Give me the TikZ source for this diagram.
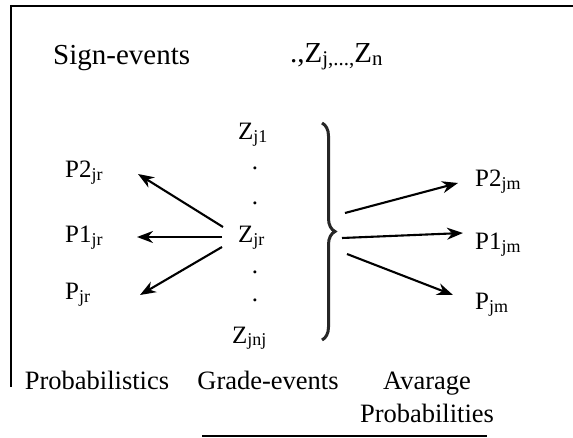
\documentclass[tikz,border=0pt]{standalone}
\usepackage{fontspec}
\setmainfont{Liberation Serif}
\usetikzlibrary{decorations.pathreplacing,arrows.meta}
\newcommand\sbs[1]{\raisebox{-0.2ex}{\scalebox{0.72}{#1}}}
\begin{document}
\begin{tikzpicture}[x=1pt,y=-1pt,
  lbl/.style={inner sep=0pt, anchor=base west, font=\fontsize{25}{28}\selectfont},
  big/.style={inner sep=0pt, anchor=base west, font=\fontsize{29}{32}\selectfont},
  captext/.style={inner sep=0pt, anchor=base, font=\fontsize{26.5}{33}\selectfont, align=center},
  dotlbl/.style={inner sep=0pt, anchor=base, font=\fontsize{25}{28}\selectfont},
  arr/.style={-{Stealth[length=16pt,width=12pt]}, line width=2.1pt},
  frame/.style={line width=2.4pt}]
\useasboundingbox (0,0) rectangle (573,438);
% frame lines
\draw[frame] (10,6) -- (573,6);
\draw[frame] (11,5) -- (11,387);
\draw[frame] (202,436) -- (487,436);
% header
\node[big] (sign) at (53,65) {Sign-events};
\node[big] (zseq) at (290,63) {.,Z\sbs{j,...,}Z\sbs{n}};
% grade events column
\node[lbl] (z1) at (238,140) {Z\sbs{j1}};
\node[dotlbl] (d1) at (255,170) {.};
\node[dotlbl] (d2) at (255,205) {.};
\node[lbl] (zr) at (238,243) {Z\sbs{jr}};
\node[dotlbl] (d3) at (255,274) {.};
\node[dotlbl] (d4) at (255,302) {.};
\node[lbl] (zn) at (232,343) {Z\sbs{jnj}};
% left probabilities
\node[lbl] (p2l) at (65,178) {P2\sbs{jr}};
\node[lbl] (p1l) at (65,243) {P1\sbs{jr}};
\node[lbl] (p0l) at (65,300) {P\sbs{jr}};
% right probabilities
\node[lbl] (p2r) at (475,187) {P2\sbs{jm}};
\node[lbl] (p1r) at (475,250) {P1\sbs{jm}};
\node[lbl] (p0r) at (475,310) {P\sbs{jm}};
% brace
\draw[line width=3pt, black!85, decorate, decoration={brace, amplitude=13pt}] (322,123) -- (322,340);
\coordinate (tip) at (335,236);
% left arrows
\draw[arr] ([shift={(-15,-16)}]zr.base west) -- ([shift={(73,-4)}]p2l.base west);
\draw[arr] ([shift={(-16,-6)}]zr.base west) -- ([shift={(72,-6)}]p1l.base west);
\draw[arr] ([shift={(-16,4)}]zr.base west) -- ([shift={(75,-5)}]p0l.base west);
% right arrows
\draw[arr] ([shift={(10,-23)}]tip) -- ([shift={(-17,-4)}]p2r.base west);
\draw[arr] ([shift={(7,2)}]tip) -- ([shift={(-12,-17)}]p1r.base west);
\draw[arr] ([shift={(12,18)}]tip) -- ([shift={(-22,-15)}]p0r.base west);
% captions
\node[captext] (c1) at (97,389) {Probabilistics};
\node[captext] (c2) at (268,389) {Grade-events};
\node[captext] (c3) at (427,422) {Avarage\\Probabilities};
\end{tikzpicture}
\end{document}
